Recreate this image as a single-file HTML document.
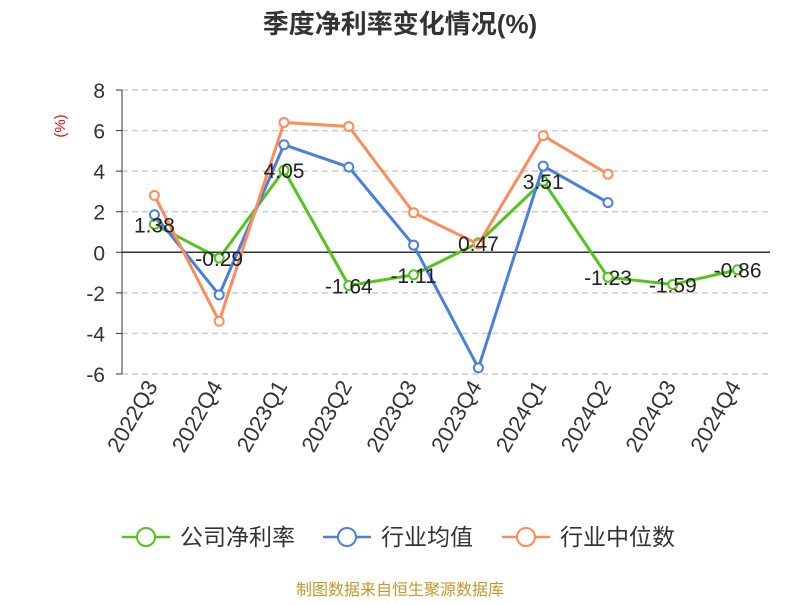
<!DOCTYPE html>
<html><head><meta charset="utf-8"><style>
body{margin:0;background:#fff;font-family:"Liberation Sans","Noto Sans CJK SC",sans-serif}
svg text{font-family:"Liberation Sans","Noto Sans CJK SC",sans-serif}
</style></head><body>
<svg id="c" width="800" height="600">
<text x="400" y="33" text-anchor="middle" font-size="26" font-weight="bold" fill="#333">季度净利率变化情况(%)</text>
<text x="65" y="126" text-anchor="middle" font-size="15" fill="#e00" transform="rotate(-90 65 126)">(%)</text>
<g id="grid"></g><g id="series"></g><g id="labels"></g>
<g>
<g><line x1="122" y1="537" x2="170" y2="537" stroke="#52c41a" stroke-width="2.5"/><circle cx="146" cy="537" r="9" fill="#fff" stroke="#52c41a" stroke-width="2"/><text x="180" y="545" font-size="23" fill="#333">公司净利率</text></g>
<g><line x1="323" y1="537" x2="371" y2="537" stroke="#4a7fe0" stroke-width="2.5"/><circle cx="347" cy="537" r="9" fill="#fff" stroke="#4a7fe0" stroke-width="2"/><text x="381" y="545" font-size="23" fill="#333">行业均值</text></g>
<g><line x1="502" y1="537" x2="550" y2="537" stroke="#ff8a5a" stroke-width="2.5"/><circle cx="526" cy="537" r="9" fill="#fff" stroke="#ff8a5a" stroke-width="2"/><text x="560" y="545" font-size="23" fill="#333">行业中位数</text></g>
</g>
<text x="400" y="595" text-anchor="middle" font-size="16" fill="#c8962a">制图数据来自恒生聚源数据库</text>
</svg>
<script>
const categories=["2022Q3","2022Q4","2023Q1","2023Q2","2023Q3","2023Q4","2024Q1","2024Q2","2024Q3","2024Q4"];
const companyValues=[1.38,-0.29,4.05,-1.64,-1.11,0.47,3.51,-1.23,-1.59,-0.86];
const industryAvg=[1.85,-2.1,5.3,4.2,0.35,-5.7,4.25,2.45];
const industryMedian=[2.8,-3.4,6.4,6.2,1.95,0.4,5.75,3.85];
const yTicks=[8,6,4,2,0,-2,-4,-6];
const NS="http://www.w3.org/2000/svg";
const L=122,R=770,T=90,B=374,yMax=8,yMin=-6;
const bw=(R-L)/categories.length;
const xs=i=>L+bw*(i+0.5);
const ys=v=>T+(yMax-v)/(yMax-yMin)*(B-T);
function mk(tag,attrs,parent){const e=document.createElementNS(NS,tag);for(const k in attrs)e.setAttribute(k,attrs[k]);parent.appendChild(e);return e;}
const grid=document.getElementById('grid');
yTicks.forEach(t=>{
 if(t!==0){const g=mk('line',{x1:L,x2:R,y1:ys(t),y2:ys(t),stroke:'#ccc','stroke-dasharray':'6,4','stroke-width':1.5},grid);
 
 }
 const tx=mk('text',{x:L-17,y:ys(t)+8,'text-anchor':'end','font-size':21,fill:'#333'},grid);tx.textContent=t;
 
 
 const tk=mk('line',{x1:L-6,x2:L,y1:ys(t),y2:ys(t),stroke:'#333'},grid);
 
 
});
const ya=mk('line',{x1:L,x2:L,y1:T,y2:B,stroke:'#333','stroke-width':1},grid);


const xa=mk('line',{x1:L,x2:R,y1:ys(0),y2:ys(0),stroke:'#333','stroke-width':1.5},grid);


categories.forEach((c,i)=>{
 const x=xs(i)+4,y=B+12;
 const t=mk('text',{x:x,y:y,'text-anchor':'end','font-size':22,fill:'#333',transform:`rotate(-60 ${x} ${y})`},grid);t.textContent=c;
 
 
});
const sg=document.getElementById('series');
function draw(vals,color,name){
 const g=mk('g',{},sg);
 
 
 const p=mk('polyline',{points:vals.map((v,i)=>xs(i)+','+ys(v)).join(' '),fill:'none',stroke:color,'stroke-width':3},g);
 
 
 vals.forEach((v,i)=>{const c=mk('circle',{cx:xs(i),cy:ys(v),r:4.5,fill:'#fff',stroke:color,'stroke-width':2},g);
 
 });
}
draw(companyValues,'#52c41a','company-net-margin');
draw(industryAvg,'#4a7fe0','industry-average');
draw(industryMedian,'#ff8a5a','industry-median');
const lg=document.getElementById('labels');
companyValues.forEach((v,i)=>{
 const t=mk('text',{x:xs(i),y:ys(v)+8,'text-anchor':'middle','font-size':21,fill:'#222'},lg);t.textContent=v;
 
 
});
</script>
</body></html>
